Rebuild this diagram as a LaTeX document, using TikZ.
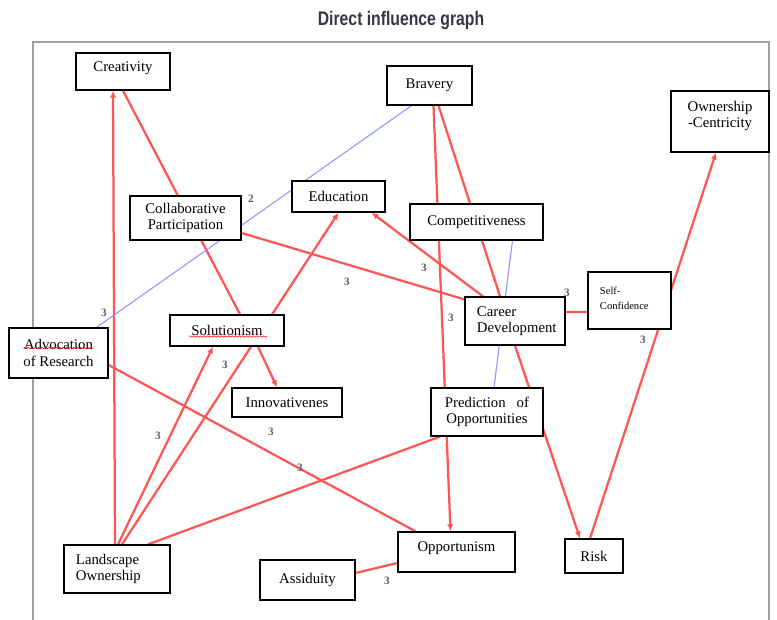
\documentclass[tikz,border=0pt]{standalone}
\usepackage{fontspec}
\setmainfont{Liberation Serif}
\newfontfamily\titlefont[FakeStretch=0.8]{Liberation Sans}
\usetikzlibrary{arrows.meta, calc, backgrounds, decorations.pathmorphing}

\definecolor{edgered}{RGB}{255,85,85}
\definecolor{edgeblue}{RGB}{150,150,255}
\definecolor{framegray}{RGB}{160,160,160}
\definecolor{titlegray}{RGB}{55,55,65}
\definecolor{wtgray}{RGB}{90,90,110}

\tikzset{
  box/.style={draw, line width=0.9pt, fill=white, align=center, inner sep=2pt, font=\fontsize{10.5}{11.5}\selectfont},
  boxl/.style={box, align=left, inner xsep=0.3cm},
  infl/.style={draw=edgered, line width=1.6pt},
  inflarr/.style={infl, -{Latex[length=5pt,width=4.5pt]}},
  weak/.style={draw=edgeblue, line width=0.8pt},
  wt/.style={font=\footnotesize\bfseries, text=wtgray, inner sep=1pt},
  squiggle/.style={red, line width=0.4pt, decorate, decoration={snake, amplitude=0.5pt, segment length=2.5pt}},
}

\begin{document}
\begin{tikzpicture}[x=0.025cm, y=-0.025cm]
\useasboundingbox (0,0) rectangle (777,619);

% Title and frame
\node[font=\titlefont\bfseries\fontsize{14}{16}\selectfont, text=titlegray] (title) at (401,20) {Direct influence graph};
\draw[framegray, line width=1.3pt] (33,640) -- (33,42) -- (769,42) -- (769,640);

% Factors
\node[box, minimum width=2.35cm, minimum height=0.925cm, text depth=7pt] (cre) at (123,71.5) {Creativity};
\node[box, minimum width=2.125cm, minimum height=0.975cm] (bra) at (429.5,85.5) {Bravery};
\node[box, minimum width=2.45cm, minimum height=1.525cm, text depth=10pt] (own) at (720,121.5) {Ownership\\-Centricity};
\node[box, minimum width=2.325cm, minimum height=0.775cm] (edu) at (338.5,196.5) {Education};
\node[box, minimum width=2.775cm, minimum height=1.1cm] (col) at (185.5,218) {Collaborative\\Participation};
\node[box, minimum width=3.325cm, minimum height=0.9cm] (com) at (476.5,222) {Competitiveness};
\node[boxl, text width=1.475cm, minimum height=1.425cm, text depth=14pt, font=\fontsize{7.5}{11}\selectfont] (sel) at (629.5,300.5) {Self-\\Confidence};
\node[boxl, text width=1.9cm, minimum height=1.2cm] (car) at (515,321) {Career\\Development};
\node[box, minimum width=2.475cm, minimum height=1.25cm] (adv) at (58.5,353) {Advocation\\of Research};
\node[box, minimum width=2.85cm, minimum height=0.775cm] (sol) at (227,330.5) {Solutionism};
\node[box, minimum width=2.75cm, minimum height=0.725cm] (inn) at (287,402.5) {Innovativenes};
\node[box, minimum width=2.8cm, minimum height=1.2cm] (pre) at (487,412) {Prediction \ \ of\\Opportunities};
\node[boxl, text width=2.05cm, minimum height=1.2cm] (lan) at (117,569) {Landscape\\Ownership};
\node[box, minimum width=2.375cm, minimum height=1cm] (ass) at (307.5,580) {Assiduity};
\node[box, minimum width=2.925cm, minimum height=1cm, text depth=7pt] (opp) at (456.5,552) {Opportunism};
\node[box, minimum width=1.45cm, minimum height=0.85cm] (ris) at (594,556) {Risk};

% spell-check marks
\draw[squiggle] ($(adv.center)+(-35,-5)$) -- ($(adv.center)+(35,-5)$);
\draw[squiggle] ($(sol.center)+(-38,6)$) -- ($(sol.center)+(40,6)$);

% Influences
\begin{scope}[on background layer]
\draw[inflarr] ($(lan.north)+(-2,0)$) -- ($(cre.south)+(-10,0)$);
\draw[infl] (cre.south) -- ($(sol.north)+(13,0)$);
\draw[weak] ($(bra.south)+(-18,0)$) -- ($(adv.north)+(38,0)$);
\draw[infl] ($(col.east)+(0,15)$) -- ($(car.north west)+(0,3)$);
\draw[inflarr] ($(lan.north)+(5,0)$) -- (edu.south);
\draw[inflarr] ($(car.north)+(-32,0)$) -- ($(edu.south)+(33,0)$);
\draw[inflarr] ($(bra.south)+(4,0)$) -- ($(opp.north)+(-6,0)$);
\draw[infl] ($(bra.south)+(9,0)$) -- ($(car.north)+(-15,0)$);
\draw[weak] ($(com.south)+(36,0)$) -- ($(pre.north)+(7,0)$);
\draw[infl] ($(car.east)+(0,-9)$) -- ($(sel.west)+(0,11.5)$);
\draw[inflarr] ($(ris.north)+(-4,0)$) -- ($(own.south)+(-4,0)$);
\draw[inflarr] (car.south) -- ($(ris.north)+(-14,0)$);
\draw[inflarr] ($(sol.south)+(31,0)$) -- ($(inn.north)+(-10,0)$);
\draw[inflarr] ($(lan.north)+(1,0)$) -- ($(sol.south)+(-14,0)$);
\draw[infl] ($(lan.north)+(31,0)$) -- ($(pre.south)+(-47,0)$);
\draw[infl] ($(adv.east)+(0,12)$) -- ($(opp.north)+(-41,0)$);
\draw[infl] ($(ass.east)+(0,-7)$) -- ($(opp.west)+(0,11)$);
\end{scope}

% Weights
\foreach \x/\y/\t [count=\i] in {251/199/2, 104/313/3, 347/282/3, 424/268/3, 451/318/3, 567/293/3,
  643/340/3, 225/365/3, 158/436/3, 271/432/3, 300/468/3, 387/581/3}
  \node[wt] (w\i) at (\x,\y) {\t};
\end{tikzpicture}
\end{document}
